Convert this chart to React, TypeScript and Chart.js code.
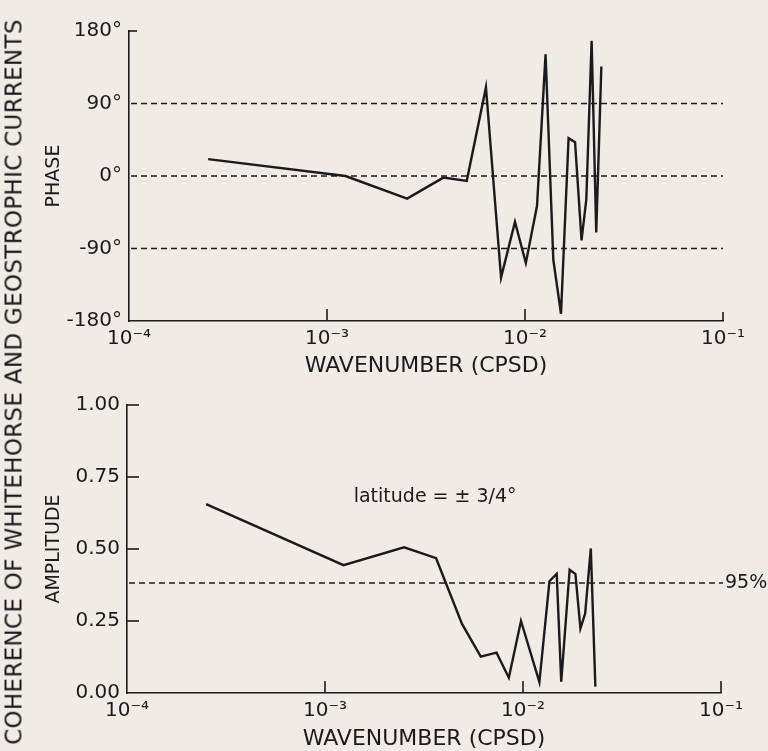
import React, { useEffect, useRef } from 'react';
import { Chart, registerables } from 'chart.js';

Chart.register(...registerables);

const PAPER = '#eeece5';
const INK = '#1b1b1b';
const FONT = '"DejaVu Sans", "Liberation Sans", sans-serif';

// ---- shared axis data ----
const decadeTicks = [1e-4, 1e-3, 1e-2, 1e-1];
const decadeLabels = ['10⁻⁴', '10⁻³', '10⁻²', '10⁻¹'];
const innerDecadeMarks = [1e-3, 1e-2, 1e-1];

// ---- phase panel ----
const phaseWavenumber = [
  2.51e-4, 1.24e-3, 2.54e-3, 3.87e-3, 5.08e-3, 6.35e-3, 7.57e-3, 8.9e-3, 1.01e-2,
  1.15e-2, 1.27e-2, 1.39e-2, 1.52e-2, 1.66e-2, 1.79e-2, 1.93e-2, 2.04e-2, 2.17e-2,
  2.29e-2, 2.43e-2,
];
const phaseDegrees = [
  21, 0, -28, -2, -6, 110, -126, -57, -108, -37, 151, -104, -171, 47, 42, -80, -29,
  168, -70, 136,
];
const phaseTicks = [-180, -90, 0, 90, 180];
const phaseTickLabels = ['-180°', '-90°', '0°', '90°', '180°'];
const phaseReferenceLines = [-90, 0, 90];

// ---- amplitude (coherence) panel ----
const coherenceWavenumber = [
  2.51e-4, 1.24e-3, 2.51e-3, 3.64e-3, 4.92e-3, 6.12e-3, 7.35e-3, 8.48e-3, 9.77e-3,
  1.21e-2, 1.36e-2, 1.48e-2, 1.56e-2, 1.72e-2, 1.84e-2, 1.95e-2, 2.06e-2, 2.2e-2,
  2.32e-2,
];
const coherenceAmplitude = [
  0.656, 0.444, 0.506, 0.468, 0.24, 0.126, 0.14, 0.053, 0.25, 0.038, 0.388, 0.414,
  0.039, 0.428, 0.413, 0.224, 0.276, 0.502, 0.022,
];
const amplitudeTicks = [0, 0.25, 0.5, 0.75, 1];
const amplitudeTickLabels = ['0.00', '0.25', '0.50', '0.75', '1.00'];
const confidence95 = 0.382;
const confidenceLabel = '95%';
const latitudeNote = 'latitude = ± 3/4°';
const latitudeNoteAt = { x: 3.6e-3, y: 0.68 };

type Panel = {
  height: number;
  padTop: number;
  xs: number[];
  ys: number[];
  yMin: number;
  yMax: number;
  yTicks: number[];
  yLabels: string[];
  yTitle: string;
  yWidth: number;
  padRight: number;
  xHeight: number;
  xTitlePad: number;
  decor: (chart: any) => void;
};

function strokeLine(ctx: CanvasRenderingContext2D, x1: number, y1: number, x2: number, y2: number) {
  ctx.beginPath();
  ctx.moveTo(x1, y1);
  ctx.lineTo(x2, y2);
  ctx.stroke();
}

function buildChart(canvas: HTMLCanvasElement, p: Panel) {
  return new Chart(canvas, {
    type: 'line',
    data: {
      datasets: [
        {
          data: p.xs.map((x, i) => ({ x, y: p.ys[i] })),
          borderColor: INK,
          borderWidth: 2.4,
          pointRadius: 0,
          tension: 0,
          fill: false,
          borderJoinStyle: 'miter',
        },
      ],
    },
    options: {
      animation: false,
      responsive: false,
      maintainAspectRatio: false,
      devicePixelRatio: 1,
      layout: { padding: { left: 40, right: p.padRight, top: p.padTop, bottom: 0 } },
      plugins: { legend: { display: false }, tooltip: { enabled: false } },
      scales: {
        x: {
          type: 'logarithmic',
          min: 1e-4,
          max: 1e-1,
          afterBuildTicks: (s: any) => {
            s.ticks = decadeTicks.map((v) => ({ value: v }));
          },
          afterFit: (s: any) => {
            s.height = p.xHeight;
          },
          ticks: {
            autoSkip: false,
            maxRotation: 0,
            padding: 6,
            color: INK,
            font: { family: FONT, size: 20 },
            callback: (_v: any, i: number) => decadeLabels[i],
          },
          grid: { display: false, drawTicks: false },
          border: { display: true, color: INK, width: 1.6 },
          title: {
            display: true,
            text: 'WAVENUMBER (CPSD)',
            color: INK,
            font: { family: FONT, size: 22, lineHeight: 1 },
            padding: { top: 0, bottom: p.xTitlePad },
          },
        },
        y: {
          type: 'linear',
          min: p.yMin,
          max: p.yMax,
          afterBuildTicks: (s: any) => {
            s.ticks = p.yTicks.map((v) => ({ value: v }));
          },
          afterFit: (s: any) => {
            s.width = p.yWidth;
          },
          ticks: {
            padding: 7,
            color: INK,
            font: { family: FONT, size: 20 },
            callback: (_v: any, i: number) => p.yLabels[i],
          },
          grid: { display: false, drawTicks: false },
          border: { display: true, color: INK, width: 1.6 },
          title: {
            display: true,
            text: p.yTitle,
            color: INK,
            font: { family: FONT, size: 19, lineHeight: 1 },
            padding: { top: 5, bottom: 0 },
          },
        },
      },
    },
    plugins: [
      {
        id: 'decor',
        afterDatasetsDraw(chart: any) {
          p.decor(chart);
        },
      },
    ],
  } as any);
}

const phasePanel: Panel = {
  height: 380,
  padTop: 31,
  xs: phaseWavenumber,
  ys: phaseDegrees,
  yMin: -180,
  yMax: 180,
  yTicks: phaseTicks,
  yLabels: phaseTickLabels,
  yTitle: 'PHASE',
  yWidth: 89,
  padRight: 45,
  xHeight: 59,
  xTitlePad: 3,
  decor: (chart: any) => {
    const { ctx, chartArea: a, scales } = chart;
    const { x, y } = scales;
    ctx.save();
    ctx.strokeStyle = INK;
    ctx.lineWidth = 1.6;
    innerDecadeMarks.forEach((v) => {
      const px = x.getPixelForValue(v);
      strokeLine(ctx, px, a.bottom, px, a.bottom - (v === 1e-1 ? 9 : 12));
    });
    const top = y.getPixelForValue(180);
    strokeLine(ctx, a.left, top, a.left + 8, top);
    ctx.lineWidth = 1.4;
    ctx.setLineDash([6, 4]);
    phaseReferenceLines.forEach((v) => {
      const py = y.getPixelForValue(v);
      strokeLine(ctx, a.left + 2, py, a.right, py);
    });
    ctx.restore();
  },
};

const amplitudePanel: Panel = {
  height: 371,
  padTop: 25,
  xs: coherenceWavenumber,
  ys: coherenceAmplitude,
  yMin: 0,
  yMax: 1,
  yTicks: amplitudeTicks,
  yLabels: amplitudeTickLabels,
  yTitle: 'AMPLITUDE',
  yWidth: 87,
  padRight: 47,
  xHeight: 58,
  xTitlePad: 1,
  decor: (chart: any) => {
    const { ctx, chartArea: a, scales } = chart;
    const { x, y } = scales;
    ctx.save();
    ctx.strokeStyle = INK;
    ctx.fillStyle = INK;
    ctx.lineWidth = 1.6;
    innerDecadeMarks.forEach((v) => {
      const px = x.getPixelForValue(v);
      strokeLine(ctx, px, a.bottom, px, a.bottom - 12);
    });
    amplitudeTicks
      .filter((v) => v > 0)
      .forEach((v) => {
        const py = y.getPixelForValue(v);
        strokeLine(ctx, a.left, py, a.left + 12, py);
      });
    ctx.lineWidth = 1.4;
    ctx.setLineDash([6, 4]);
    const cy = y.getPixelForValue(confidence95);
    strokeLine(ctx, a.left + 2, cy, a.right + 2, cy);
    ctx.setLineDash([]);
    ctx.font = `19px ${FONT}`;
    ctx.textBaseline = 'middle';
    ctx.textAlign = 'left';
    ctx.fillText(confidenceLabel, a.right + 4, cy);
    ctx.font = `19px ${FONT}`;
    ctx.textAlign = 'center';
    ctx.fillText(latitudeNote, x.getPixelForValue(latitudeNoteAt.x), y.getPixelForValue(latitudeNoteAt.y));
    ctx.restore();
  },
};

function PanelCanvas({ panel, top }: { panel: Panel; top: number }) {
  const ref = useRef<HTMLCanvasElement | null>(null);
  useEffect(() => {
    if (!ref.current) return;
    const chart = buildChart(ref.current, panel);
    return () => chart.destroy();
  }, [panel]);
  return (
    <canvas
      ref={ref}
      width={768}
      height={panel.height}
      style={{ position: 'absolute', left: 0, top, width: 768, height: panel.height }}
    />
  );
}

export default function App() {
  return (
    <div
      style={{
        position: 'fixed',
        left: 0,
        top: 0,
        width: 768,
        height: 751,
        background: PAPER,
        overflow: 'hidden',
      }}
    >
      <PanelCanvas panel={phasePanel} top={0} />
      <PanelCanvas panel={amplitudePanel} top={380} />
      <div
        style={{
          position: 'absolute',
          left: 14,
          top: 382,
          transform: 'translate(-50%, -50%) rotate(-90deg)',
          fontFamily: FONT,
          fontSize: 23,
          lineHeight: 1,
          color: INK,
          whiteSpace: 'nowrap',
          letterSpacing: '0.3px',
        }}
      >
        COHERENCE OF WHITEHORSE AND GEOSTROPHIC CURRENTS
      </div>
    </div>
  );
}
